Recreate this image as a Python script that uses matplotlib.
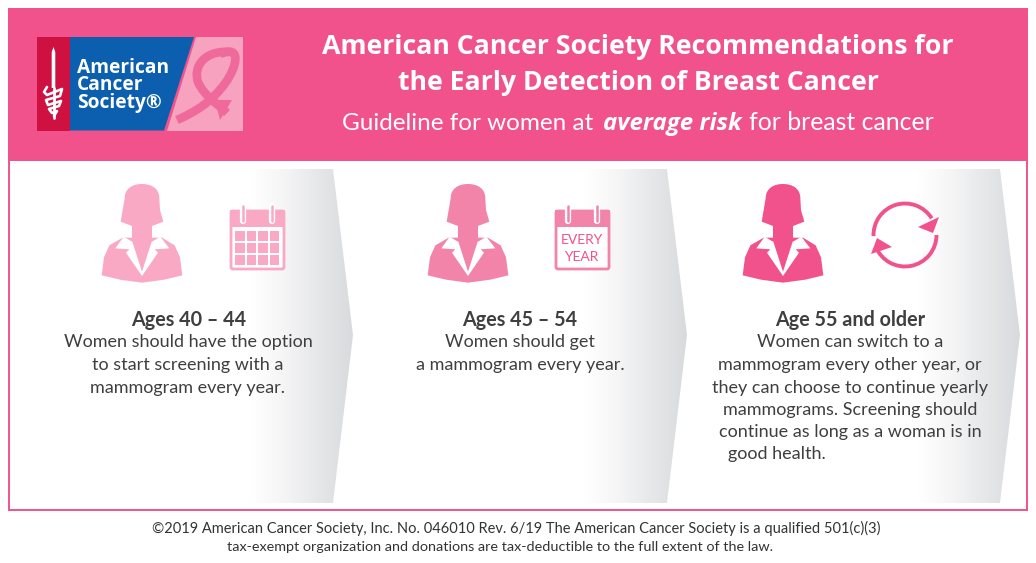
import numpy as np
import matplotlib
matplotlib.use("Agg")
import matplotlib.pyplot as plt
from matplotlib.colors import LinearSegmentedColormap
from matplotlib.patches import Arc, FancyBboxPatch, PathPatch, Polygon, Rectangle
from matplotlib.path import Path

PINK = "#f1528c"
MID_PINK = "#f284a9"
LIGHT_PINK = "#f9a9c4"
TEXT_DARK = "#3f3f3f"

title_lines = ["American Cancer Society Recommendations for",
               "the Early Detection of Breast Cancer"]
subtitle_parts = ["Guideline for women at", "average risk", "for breast cancer"]
logo_lines = ["American", "Cancer", "Society®"]

headings = ["Ages 40 – 44", "Ages 45 – 54", "Age 55 and older"]
body_1 = ["Women should have the option", "to start screening with a",
          "mammogram every year."]
body_2 = ["Women should get", "a mammogram every year."]
body_3 = ["Women can switch to a", "mammogram every other year, or",
          "they can choose to continue yearly", "mammograms. Screening should",
          "continue as long as a woman is in", "good health."]
footer = ["©2019 American Cancer Society, Inc. No. 046010 Rev. 6/19 The American Cancer Society is a qualified 501(c)(3)",
          "tax-exempt organization and donations are tax-deductible to the full extent of the law."]

plt.rcParams["font.family"] = ["Open Sans", "DejaVu Sans"]

fig = plt.figure(figsize=(10.36, 5.63), dpi=100)
ax = fig.add_axes([0, 0, 1, 1])
ax.axis("off")

# header and frame
ax.add_patch(Rectangle((9, 160), 1018, 350, fc="white", ec=PINK, lw=1.4))
ax.add_patch(Rectangle((8, 8), 1020, 152.5, fc=PINK, ec="none"))

# grey chevrons
grey_map = LinearSegmentedColormap.from_list("chev", ["#ffffff", "#f5f5f6", "#e6e7e9", "#d9dadd"])
grad = np.linspace(0, 1, 256).reshape(1, -1)
for x0, x1, tip in [(250, 333, 353), (585, 667, 687), (918, 1000, 1020)]:
    shape = Polygon([(x0, 169), (x1, 169), (tip, 335), (x1, 503), (x0, 503)], fc="none", ec="none")
    ax.add_patch(shape)
    im = ax.imshow(grad, extent=(x0, tip, 503, 169), cmap=grey_map, aspect="auto", zorder=1)
    im.set_clip_path(shape)


def draw_person(cx, top, color):
    def pts(seq):
        return [(cx + (x - 158) / 3, top + (y - 42) / 3) for x, y in seq]

    codes = [Path.MOVETO, Path.CURVE4, Path.CURVE4, Path.CURVE4, Path.CURVE4, Path.CURVE4, Path.CURVE4,
             Path.LINETO, Path.LINETO, Path.LINETO, Path.LINETO, Path.LINETO, Path.CLOSEPOLY]
    hair = pts([(106, 85), (106, 55), (130, 42), (158, 42), (186, 42), (210, 55), (210, 85),
                (212, 120), (222, 155), (188, 168), (128, 168), (94, 155), (106, 85)])
    ax.add_patch(PathPatch(Path(hair, codes), fc=color, ec="none", zorder=3))
    ax.add_patch(Polygon(pts([(100, 203), (218, 203), (256, 226), (272, 262), (279, 316), (225, 329),
                              (158, 338), (92, 329), (37, 316), (44, 262), (60, 226)]),
                         fc=color, ec="none", zorder=3))
    ax.add_patch(Polygon(pts([(103, 200), (78, 235), (120, 238), (110, 248), (158, 318), (206, 248),
                              (196, 238), (240, 235), (213, 200), (190, 214), (126, 214)]),
                         fc="white", ec="none", zorder=4))
    ax.add_patch(Polygon(pts([(128, 165), (188, 165), (188, 212), (158, 305), (128, 212)]),
                         fc=color, ec="none", zorder=5))


def draw_calendar(x, color, header_color, cells):
    ax.add_patch(FancyBboxPatch((x + 1, 211), 53, 58, boxstyle="round,pad=0,rounding_size=2",
                                fc="white", ec=color, lw=2, zorder=3))
    ax.add_patch(Rectangle((x, 210), 55, 17, fc=header_color, ec="none", zorder=4))
    for rx in (x + 13, x + 42):
        ax.plot([rx, rx], [206, 221], color="white", lw=4.5, solid_capstyle="round", zorder=5)
        ax.plot([rx, rx], [206, 221], color=header_color, lw=1.8, solid_capstyle="round", zorder=6)
    if cells:
        for row in range(3):
            for col in range(4):
                ax.add_patch(Rectangle((x + 5 + col * 11.5, 230.5 + row * 12), 9.8, 10,
                                       fc=color, ec="none", zorder=4))


draw_person(142, 184, LIGHT_PINK)
draw_person(468, 184, MID_PINK)
draw_person(783, 184, PINK)

draw_calendar(230, LIGHT_PINK, LIGHT_PINK, True)
draw_calendar(555, MID_PINK, MID_PINK, False)
ax.text(582, 240, "EVERY", color=PINK, fontsize=10, ha="center", va="center", zorder=6, family="Lato")
ax.text(581, 257, "YEAR", color=PINK, fontsize=10, ha="center", va="center", zorder=6, family="Lato")

# cycle icon
ax.add_patch(Arc((905, 235), 63, 63, theta1=178, theta2=328, color=PINK, lw=2.8, zorder=3))
ax.add_patch(Arc((905, 235), 63, 63, theta1=0, theta2=158, color=PINK, lw=2.8, zorder=3))
ax.add_patch(Polygon([(939, 217), (918, 227), (933, 233)], fc=PINK, ec="none", zorder=4))
ax.add_patch(Polygon([(871, 254), (877, 238), (892, 247)], fc=PINK, ec="none", zorder=4))

# logo
ax.add_patch(Rectangle((37, 37), 33, 93.5, fc="#cf1141", ec="none", zorder=3))
ax.add_patch(Polygon([(70, 37), (194, 37), (164, 130.5), (70, 130.5)], fc="#0b5fae", ec="none", zorder=3))
ax.add_patch(Polygon([(196, 37), (243, 37), (243, 130.5), (167, 130.5)], fc="#f7a3bf", ec="none", zorder=3))
ax.add_patch(Polygon([(53.5, 47), (55.3, 52), (55.3, 88), (51.7, 88), (51.7, 52)], fc="white", ec="none", zorder=4))
ax.plot([53.5, 53.5], [88, 118], color="white", lw=2, zorder=4, solid_capstyle="round")
ax.plot([47, 44, 47, 62, 60, 46, 48, 61, 59, 49, 52, 57, 54], [87, 92, 95, 89, 96, 100, 105, 101, 106, 109, 113, 111, 116],
        color="white", lw=1.9, zorder=4, solid_capstyle="round", solid_joinstyle="round")
ax.text(77, 85.5, "\n".join(logo_lines), color="white", fontsize=13.8, fontweight="bold", va="center", ha="left",
        linespacing=0.86, zorder=5, family="Open Sans")

# ribbon
ribbon_a = Path([(177, 120), (195, 112), (212, 102), (226, 82), (236, 68), (243, 44), (220, 54)],
                [Path.MOVETO, Path.CURVE4, Path.CURVE4, Path.CURVE4, Path.CURVE4, Path.CURVE4, Path.CURVE4])
ribbon_b = Path([(230, 52), (203, 50), (193, 68), (198, 82), (204, 96), (218, 104), (227, 113)],
                [Path.MOVETO, Path.CURVE4, Path.CURVE4, Path.CURVE4, Path.CURVE4, Path.CURVE4, Path.CURVE4])
for rib in (ribbon_a, ribbon_b):
    ax.add_patch(PathPatch(rib, fc="none", ec="#ef6a9b", lw=6.2, capstyle="butt", zorder=4))
ax.add_patch(Polygon([(215, 100), (232, 100), (220, 120)], fc="#ef6a9b", ec="none", zorder=4))

# header text
for line, ty in zip(title_lines, [47.5, 82.5]):
    ax.text(638, ty, line, color="white", fontsize=19.15, fontweight="bold", ha="center", va="center", zorder=5)
subtitle_styles = [(342, "Lato", 17.5, "normal", "normal"), (603, "Open Sans", 17.3, "italic", "bold"),
                   (749, "Lato", 17.9, "normal", "normal")]
for part, (tx, fam, fs, style, weight) in zip(subtitle_parts, subtitle_styles):
    ax.text(tx, 130, part, color="white", fontsize=fs, fontstyle=style, fontweight=weight,
            ha="left", va="baseline", zorder=5, family=fam)

# columns
body_fs = 13.0
for head, hx in zip(headings, [188.5, 520, 850.5]):
    ax.text(hx, 319.5, head, color=TEXT_DARK, fontsize=14.2, fontweight="bold", ha="center", va="center", zorder=5, family="Lato")
for line, ty in zip(body_1, [342, 365, 388]):
    ax.text(188, ty, line, color=TEXT_DARK, fontsize=body_fs, ha="center", va="center", zorder=5, family="Lato")
for line, ty in zip(body_2, [342, 365]):
    ax.text(520, ty, line, color=TEXT_DARK, fontsize=body_fs, ha="center", va="center", zorder=5, family="Lato")
for line, ty, tx in zip(body_3, [342, 365, 388, 410, 432, 454], [850, 850, 850, 850, 850, 777]):
    ax.text(tx, ty, line, color=TEXT_DARK, fontsize=body_fs, ha="center", va="center", zorder=5, family="Lato")

# footer
for line, tx, ty, fs in zip(footer, [516, 500], [528, 547], [10.55, 10.4]):
    ax.text(tx, ty, line, color="#333333", fontsize=fs, ha="center", va="center", family="Lato")

ax.set_xlim(0, 1036)
ax.set_ylim(563, 0)
fig.savefig("out.png", dpi=100, facecolor="white")
